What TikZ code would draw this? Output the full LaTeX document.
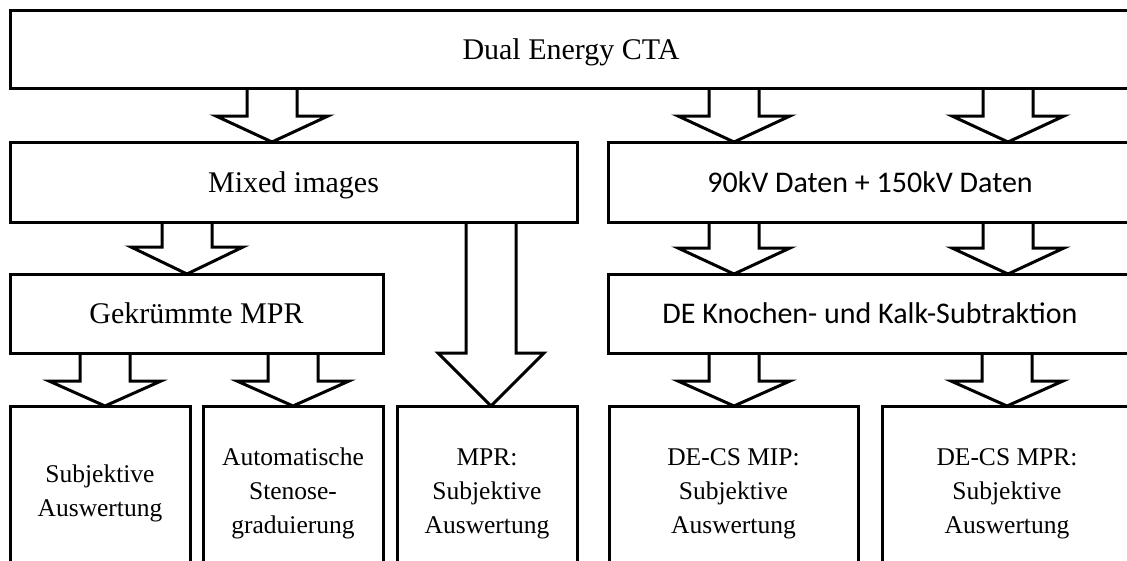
\documentclass[tikz,border=0pt]{standalone}
\usepackage{fontspec}
\setmainfont{Liberation Serif}
\newfontfamily\calfont{Carlito}
\usetikzlibrary{calc}
\tikzset{
  box/.style={draw, line width=3pt, rectangle, anchor=north west, inner sep=0pt, outer sep=0pt,
              align=center, text depth=0pt, font=\fontsize{30}{36}\selectfont},
  cbox/.style={box, font=\calfont\fontsize{30}{36}\selectfont},
  sbox/.style={box, font=\fontsize{25.5}{34}\selectfont},
  blk/.style={draw, line width=3pt, line join=miter},
}
% #1 source node, #2 target node, #3 x position, #4 head height, #5 head half width
\newcommand{\blockarrow}[5]{%
  \coordinate (ba-s) at (#3,0 |- #1.south);
  \coordinate (ba-t) at (#3,0 |- #2.north);
  \draw[blk] let \p1=(ba-s), \p2=(ba-t) in
    (\x1-25pt,\y1) -- (\x1-25pt,\y2+#4pt) -- (\x1-#5pt,\y2+#4pt) -- (\x1,\y2)
    -- (\x1+#5pt,\y2+#4pt) -- (\x1+25pt,\y2+#4pt) -- (\x1+25pt,\y1);
}
\begin{document}
\begin{tikzpicture}[x=1pt,y=-1pt]
  \path[use as bounding box] (0,0) rectangle (1127,560);
  \clip (0,0) rectangle (1127,560);

  \node[box, minimum width=1122pt, minimum height=78pt] (top) at (10,10) {Dual Energy CTA};

  \node[box, minimum width=567pt, minimum height=80pt] (mixed) at (10,142) {Mixed images};
  \node[cbox, minimum width=524pt, minimum height=80pt] (kv) at (608,142) {90kV Daten + 150kV Daten};

  \node[box, minimum width=373pt, minimum height=79pt] (gek) at (10,274) {Gekr\"ummte MPR};
  \node[cbox, minimum width=524pt, minimum height=79pt] (de) at (608,274) {DE Knochen- und Kalk-Subtraktion};

  \node[sbox, minimum width=180pt, minimum height=170pt] (b1) at (10,406) {Subjektive\\Auswertung};
  \node[sbox, minimum width=180pt, minimum height=170pt] (b2) at (203,406) {Automatische\\Stenose-\\graduierung};
  \node[sbox, minimum width=180pt, minimum height=170pt] (b3) at (397,406) {MPR:\\Subjektive\\Auswertung};
  \node[sbox, minimum width=249pt, minimum height=170pt] (b4) at (609,406) {DE-CS MIP:\\Subjektive\\Auswertung};
  \node[sbox, minimum width=250pt, minimum height=170pt] (b5) at (882,406) {DE-CS MPR:\\Subjektive\\Auswertung};

  \blockarrow{top}{mixed}{272}{26}{56}
  \blockarrow{top}{kv}{734}{26}{56}
  \blockarrow{top}{kv}{1008}{26}{56}

  \blockarrow{mixed}{gek}{187}{27}{56}
  \blockarrow{mixed}{b3}{491}{53}{53}
  \blockarrow{kv}{de}{734}{26}{56}
  \blockarrow{kv}{de}{1008}{26}{56}

  \blockarrow{gek}{b1}{105}{25}{56}
  \blockarrow{gek}{b2}{293}{25}{56}
  \blockarrow{de}{b4}{734}{25}{56}
  \blockarrow{de}{b5}{1007}{25}{56}
\end{tikzpicture}
\end{document}
